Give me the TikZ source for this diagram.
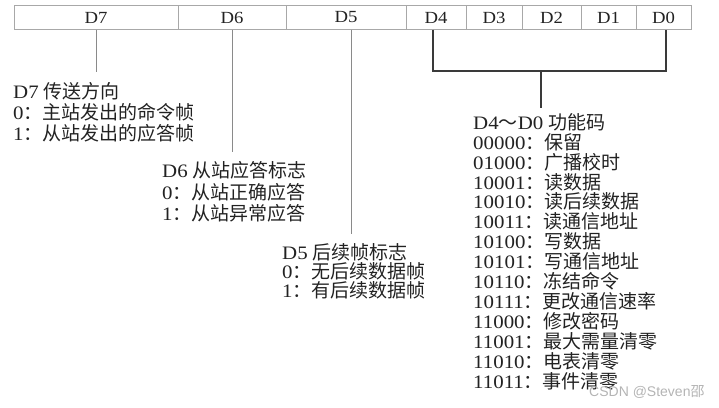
\documentclass[tikz,border=0pt]{standalone}
\usepackage{fontspec}
\setmainfont[FakeStretch=1.1]{Liberation Serif}
\newfontfamily\cjk{Noto Sans CJK SC}
\newfontfamily\wmsans{Liberation Sans}
\newcommand\zh[1]{{\cjk #1}}
\definecolor{ink}{HTML}{222222}
\definecolor{cellline}{HTML}{A8A8A8}
\definecolor{thinline}{HTML}{8A8A8A}
\definecolor{bracket}{HTML}{3A3A3A}
\definecolor{wm}{HTML}{B4B4B4}
\tikzset{
  cell/.style={draw=cellline, line width=0.9pt, minimum height=23.5pt, inner sep=0pt, text=ink, font=\fontsize{17}{17}\selectfont},
  txt/.style={anchor=west, inner sep=0pt, text height=14pt, text depth=0pt, text=ink, font=\fontsize{19}{19}\selectfont},
  lead/.style={draw=thinline, line width=0.9pt},
  brk/.style={draw=bracket, line width=1.4pt},
}
\begin{document}
\begin{tikzpicture}[x=1pt,y=-1pt]
\useasboundingbox (0,0) rectangle (719,407);
% register cells
\node[cell, minimum width=164pt] (c7) at (96,17.5) {D7};
\node[cell, minimum width=108pt] (c6) at (232,17.5) {D6};
\node[cell, minimum width=120pt] (c5) at (346,17.5) {D5};
\node[cell, minimum width=60pt] (c4) at (436,17.5) {D4};
\node[cell, minimum width=56pt] (c3) at (494,17.5) {D3};
\node[cell, minimum width=59pt] (c2) at (551.5,17.5) {D2};
\node[cell, minimum width=55pt] (c1) at (608.5,17.5) {D1};
\node[cell, minimum width=55pt] (c0) at (663.5,17.5) {D0};
% free ends
\coordinate (e7) at (96,72);
\coordinate (e6) at (232,152);
\coordinate (e5) at (351,234);
\coordinate (b4) at (433,71);
\coordinate (b0) at (666,71);
\coordinate (bm) at (541,71);
\coordinate (be) at (541,108);
% connectors
\draw[lead] (c7.south -| e7) -- (e7);
\draw[lead] (c6.south -| e6) -- (e6);
\draw[lead] (c5.south -| e5) -- (e5);
\draw[brk] (c4.south -| b4) -- (b4) -- (b0) -- (c0.south -| b0);
\draw[brk] (bm) -- (be);
% D7 text
\node[txt] (t7a) at (13,91) {D7 \zh{传送方向}};
\node[txt] (t7b) at (13,112) {0\zh{：主站发出的命令帧}};
\node[txt] (t7c) at (13,133) {1\zh{：从站发出的应答帧}};
% D6 text
\node[txt] (t6a) at (162,170) {D6 \zh{从站应答标志}};
\node[txt] (t6b) at (162,192) {0\zh{：从站正确应答}};
\node[txt] (t6c) at (162,213) {1\zh{：从站异常应答}};
% D5 text
\node[txt] (t5a) at (282,252) {D5 \zh{后续帧标志}};
\node[txt] (t5b) at (282,271) {0\zh{：无后续数据帧}};
\node[txt] (t5c) at (282,290) {1\zh{：有后续数据帧}};
% D4-D0 text
\node[txt] (f0) at (473,122) {D4\zh{～}D0 \zh{功能码}};
\node[txt] (f1) at (473,142) {00000\zh{：保留}};
\node[txt] (f2) at (473,162) {01000\zh{：广播校时}};
\node[txt] (f3) at (473,182) {10001\zh{：读数据}};
\node[txt] (f4) at (473,201) {10010\zh{：读后续数据}};
\node[txt] (f5) at (473,221) {10011\zh{：读通信地址}};
\node[txt] (f6) at (473,241) {10100\zh{：写数据}};
\node[txt] (f7) at (473,261) {10101\zh{：写通信地址}};
\node[txt] (f8) at (473,281) {10110\zh{：冻结命令}};
\node[txt] (f9) at (473,301) {10111\zh{：更改通信速率}};
\node[txt] (f10) at (473,321) {11000\zh{：修改密码}};
\node[txt] (f11) at (473,341) {11001\zh{：最大需量清零}};
\node[txt] (f12) at (473,361) {11010\zh{：电表清零}};
\node[txt] (f13) at (473,381) {11011\zh{：事件清零}};
% watermark
\node[anchor=west, inner sep=0pt, text=wm, font=\fontsize{14}{14}\wmsans] (wmk) at (589,392) {CSDN @Steven{\cjk 邵}};
\end{tikzpicture}
\end{document}
